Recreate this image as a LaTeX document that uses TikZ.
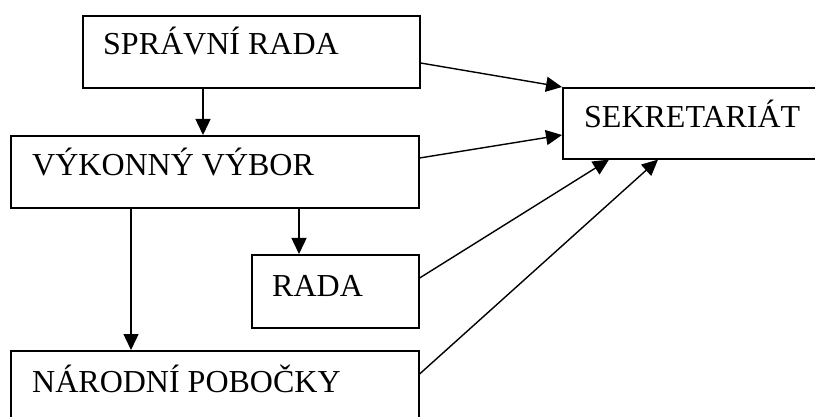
\documentclass[tikz,border=0pt]{standalone}
\usepackage{fontspec}
\setmainfont{Liberation Serif}
\usetikzlibrary{arrows.meta,calc}
\tikzset{
  box/.style={draw, line width=1.6pt, rectangle, inner sep=0pt, anchor=north west},
  lbl/.style={anchor=base west, inner sep=0pt, font=\fontsize{32}{36}\selectfont},
  conn/.style={line width=1.4pt, -{Triangle[length=16pt,width=15pt]}}
}
\begin{document}
\begin{tikzpicture}[x=1pt,y=-1pt]
\useasboundingbox (0,0) rectangle (815,417);
\clip (0,0) rectangle (815,417);
% boxes
\node[box, minimum width=337pt, minimum height=72pt] (sr) at (82,15) {};
\node[box, minimum width=408pt, minimum height=72pt] (vv) at (10,135) {};
\node[box, minimum width=167pt, minimum height=73pt] (rada) at (251,254) {};
\node[box, minimum width=408pt, minimum height=80pt] (np) at (10,350) {};
\node[box, minimum width=270pt, minimum height=71pt] (sek) at (562,87) {};
% texts
\node[lbl] (tsr) at (103,55) {SPRÁVNÍ RADA};
\node[lbl] (tvv) at (32,176) {VÝKONNÝ VÝBOR};
\node[lbl] (trada) at (272,296) {RADA};
\node[lbl] (tnp) at (32,392) {NÁRODNÍ POBOČKY};
\node[lbl] (tsek) at (584,128) {SEKRETARIÁT};
% connectors
\draw[conn] ($(sr.south west)+(121,0)$) -- ($(vv.north west)+(193,0)$);
\draw[conn] ($(vv.south west)+(121,0)$) -- ($(np.north west)+(121,0)$);
\draw[conn] ($(vv.south west)+(289,0)$) -- ($(rada.north west)+(48,0)$);
\draw[conn] ($(sr.north east)+(0,48)$) -- (sek.north west);
\draw[conn] ($(vv.north east)+(0,23)$) -- ($(sek.north west)+(0,48)$);
\draw[conn] ($(rada.north east)+(0,24)$) -- ($(sek.south west)+(47,0)$);
\draw[conn] ($(np.north east)+(0,24)$) -- ($(sek.south west)+(96,0)$);
\end{tikzpicture}
\end{document}
